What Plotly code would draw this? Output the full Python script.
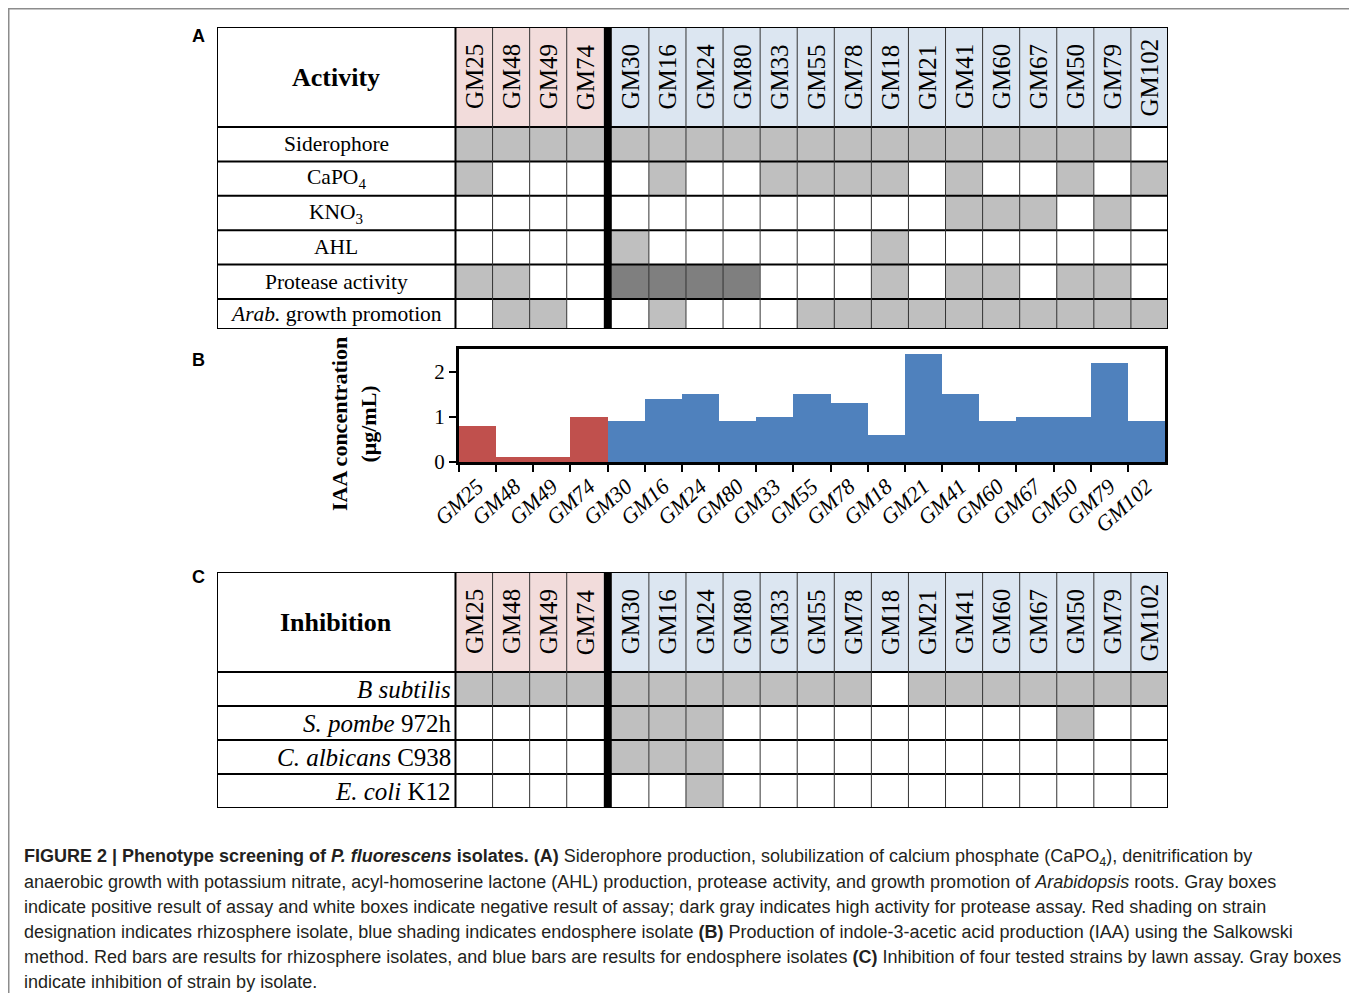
import plotly.graph_objects as go

OFF = 8  # page body margin offset
W, H = 1357 - OFF, 1001 - 2 * OFF

# ---------------- data ----------------
rhizo = ["GM25", "GM48", "GM49", "GM74"]
endo = ["GM30", "GM16", "GM24", "GM80", "GM33", "GM55", "GM78", "GM18", "GM21",
        "GM41", "GM60", "GM67", "GM50", "GM79", "GM102"]
strains = rhizo + endo

activity_rows = ["Siderophore", "CaPO<sub>4</sub>", "KNO<sub>3</sub>", "AHL",
                 "Protease activity", "<i>Arab.</i> growth promotion"]
# 0 = negative (white), 1 = positive (gray), 2 = high activity (dark gray)
siderophore = [1, 1, 1, 1, 1, 1, 1, 1, 1, 1, 1, 1, 1, 1, 1, 1, 1, 1, 0]
capo4 =       [1, 0, 0, 0, 0, 1, 0, 0, 1, 1, 1, 1, 0, 1, 0, 0, 1, 0, 1]
kno3 =        [0, 0, 0, 0, 0, 0, 0, 0, 0, 0, 0, 0, 0, 1, 1, 1, 0, 1, 0]
ahl =         [0, 0, 0, 0, 1, 0, 0, 0, 0, 0, 0, 1, 0, 0, 0, 0, 0, 0, 0]
protease =    [1, 1, 0, 0, 2, 2, 2, 2, 0, 0, 0, 1, 0, 1, 1, 0, 1, 1, 0]
arab_growth = [0, 1, 1, 0, 0, 1, 0, 0, 0, 1, 1, 1, 1, 1, 1, 1, 1, 1, 1]
activity = [siderophore, capo4, kno3, ahl, protease, arab_growth]

iaa = [0.8, 0.1, 0.1, 1.0, 0.9, 1.4, 1.5, 0.9, 1.0, 1.5, 1.3, 0.6, 2.4, 1.5,
       0.9, 1.0, 1.0, 2.2, 0.9]
iaa_ticks = [0, 1, 2]

inhibition_rows = ["<i>B subtilis</i>", "<i>S. pombe</i> 972h",
                   "<i>C. albicans</i> C938", "<i>E. coli</i> K12"]
b_subtilis = [1, 1, 1, 1, 1, 1, 1, 1, 1, 1, 1, 0, 1, 1, 1, 1, 1, 1, 1]
s_pombe =    [0, 0, 0, 0, 1, 1, 1, 0, 0, 0, 0, 0, 0, 0, 0, 0, 1, 0, 0]
c_albicans = [0, 0, 0, 0, 1, 1, 1, 0, 0, 0, 0, 0, 0, 0, 0, 0, 0, 0, 0]
e_coli =     [0, 0, 0, 0, 0, 0, 1, 0, 0, 0, 0, 0, 0, 0, 0, 0, 0, 0, 0]
inhibition = [b_subtilis, s_pombe, c_albicans, e_coli]

caption_lines = [
    "<b>FIGURE 2 | Phenotype screening of <i>P. fluorescens</i> isolates. (A)</b> Siderophore production, solubilization of calcium phosphate (CaPO<sub>4</sub>), denitrification by",
    "anaerobic growth with potassium nitrate, acyl-homoserine lactone (AHL) production, protease activity, and growth promotion of <i>Arabidopsis</i> roots. Gray boxes",
    "indicate positive result of assay and white boxes indicate negative result of assay; dark gray indicates high activity for protease assay. Red shading on strain",
    "designation indicates rhizosphere isolate, blue shading indicates endosphere isolate <b>(B)</b> Production of indole-3-acetic acid production (IAA) using the Salkowski",
    "method. Red bars are results for rhizosphere isolates, and blue bars are results for endosphere isolates <b>(C)</b> Inhibition of four tested strains by lawn assay. Gray boxes",
    "indicate inhibition of strain by isolate.",
]

# ---------------- styles ----------------
SERIF = "Liberation Serif"
SANS = "Liberation Sans"
GRAY = "#bfbfbf"
DARK = "#7f7f7f"
PINK = "#f2dcdb"
BLUE = "#dce6f1"
RED_BAR = "#c0504d"
BLUE_BAR = "#4f81bd"

colorscale = [[0, "white"], [0.125, "white"], [0.125, GRAY], [0.375, GRAY],
              [0.375, DARK], [0.625, DARK], [0.625, PINK], [0.875, PINK],
              [0.875, BLUE], [1, BLUE]]


def px_x(p):
    return (p - OFF) / W


def px_y(p):
    return 1 - (p - OFF) / H


U_PX = 37.08
LBL_PX = 238.5
SEP_PX = 8
LW = LBL_PX / U_PX
SEP = SEP_PX / U_PX
XMAX = len(strains) + SEP

fig = go.Figure()
shapes = []
annotations = []


def col_left(i):
    return i + (0 if i < len(rhizo) else SEP)


def add_table(xa, ya, top, bottom, title, row_labels, matrix, align, row_px):
    n = len(row_labels)
    header_px = 100
    HH = header_px / row_px
    ybot = (bottom - top - header_px) / row_px  # visible extent of the rows
    xr, yr = xa.replace("x", "xaxis"), ya.replace("y", "yaxis")
    for grp, start, hdr in ((rhizo, 0, 3), (endo, len(rhizo), 4)):
        k = len(grp)
        x0 = col_left(start)
        xe = [x0 + j for j in range(k + 1)]
        ye = [-HH] + list(range(n + 1))
        z = [[hdr] * k] + [row[start:start + k] for row in matrix]
        fig.add_trace(go.Heatmap(x=xe, y=ye, z=z, xaxis=xa, yaxis=ya,
                                 colorscale=colorscale, zmin=0, zmax=4,
                                 showscale=False, hoverinfo="skip"))
    fig.layout[xr] = dict(domain=[px_x(217), px_x(1168)], range=[-LW, XMAX],
                          visible=False, anchor=ya, automargin=False)
    fig.layout[yr] = dict(domain=[px_y(bottom), px_y(top)], range=[ybot, -HH],
                          visible=False, anchor=xa, automargin=False)
    for j in range(n):
        shapes.append(dict(type="line", xref=xa, yref=ya, x0=-LW, x1=XMAX,
                           y0=j, y1=j, line=dict(color="black", width=2)))
    for i in range(1, len(strains)):
        if i == len(rhizo):
            continue
        x = col_left(i)
        shapes.append(dict(type="line", xref=xa, yref=ya, x0=x, x1=x,
                           y0=-HH, y1=ybot, line=dict(color="#333333", width=1)))
    shapes.append(dict(type="line", xref=xa, yref=ya, x0=0, x1=0,
                       y0=-HH, y1=ybot, line=dict(color="black", width=2)))
    shapes.append(dict(type="rect", xref=xa, yref=ya, x0=len(rhizo),
                       x1=len(rhizo) + SEP, y0=-HH, y1=ybot,
                       fillcolor="black", line=dict(width=0)))
    shapes.append(dict(type="rect", xref=xa, yref=ya, x0=-LW, x1=XMAX,
                       y0=-HH, y1=ybot, line=dict(color="black", width=2)))
    for i, s in enumerate(strains):
        annotations.append(dict(xref=xa, yref=ya, x=col_left(i) + 0.5,
                                y=-HH / 2, text=s, textangle=-90,
                                showarrow=False, xanchor="center",
                                yanchor="middle",
                                font=dict(family=SERIF, size=25, color="black")))
    annotations.append(dict(xref=xa, yref=ya, x=-LW / 2, y=-HH / 2,
                            text="<b>%s</b>" % title, showarrow=False,
                            xanchor="center", yanchor="middle",
                            font=dict(family=SERIF, size=26, color="black")))
    for j, lab in enumerate(row_labels):
        yc = (j + min(j + 1, ybot)) / 2
        if align == "center":
            annotations.append(dict(xref=xa, yref=ya, x=-LW / 2, y=yc,
                                    text=lab, showarrow=False,
                                    xanchor="center", yanchor="middle",
                                    font=dict(family=SERIF, size=21.5,
                                              color="black")))
        else:
            annotations.append(dict(xref=xa, yref=ya, x=0, y=yc,
                                    xanchor="right", yanchor="middle",
                                    xshift=-2, text=lab, showarrow=False,
                                    font=dict(family=SERIF, size=25,
                                              color="black")))


add_table("x", "y", 27, 329, "Activity", activity_rows, activity, "center", 34.4)
add_table("x3", "y3", 572, 808, "Inhibition", inhibition_rows, inhibition,
          "right", 34.0)

# ---------------- bar chart ----------------
bar_colors = [RED_BAR if s in rhizo else BLUE_BAR for s in strains]
fig.add_trace(go.Bar(x=strains, y=iaa, xaxis="x2", yaxis="y2",
                     marker=dict(color=bar_colors, line=dict(width=0)),
                     hoverinfo="skip"))
fig.layout["xaxis2"] = dict(domain=[px_x(459), px_x(1165)], anchor="y2",
                            type="category", range=[-0.5, len(strains) - 0.5],
                            showline=True, mirror=True, linewidth=3,
                            linecolor="black", ticks="outside",
                            tickson="boundaries", ticklen=7, tickwidth=2,
                            tickcolor="black", tickangle=-42, showgrid=False,
                            automargin=False,
                            tickfont=dict(family=SERIF, size=22, style="italic",
                                          color="black"))
fig.layout["yaxis2"] = dict(domain=[px_y(462), px_y(349)], anchor="x2",
                            range=[0, 2.5], tickvals=iaa_ticks,
                            showline=True, mirror=True, linewidth=3,
                            linecolor="black", ticks="outside", ticklen=7,
                            tickwidth=2, tickcolor="black", showgrid=False,
                            zeroline=False, automargin=False,
                            tickfont=dict(family=SERIF, size=21, color="black"))
annotations.append(dict(xref="paper", yref="paper", x=px_x(354), y=px_y(424),
                        text="<b>IAA concentration</b><br><b>(μg/mL)</b>",
                        textangle=-90, showarrow=False, xanchor="center",
                        yanchor="middle",
                        font=dict(family=SERIF, size=22, color="black")))

for letter, yy in (("A", 36), ("B", 360), ("C", 577)):
    annotations.append(dict(xref="paper", yref="paper", x=px_x(199),
                            y=px_y(yy), text="<b>%s</b>" % letter,
                            showarrow=False, xanchor="center",
                            yanchor="middle",
                            font=dict(family=SANS, size=18, color="black")))

for k, line in enumerate(caption_lines):
    annotations.append(dict(xref="paper", yref="paper", x=px_x(22),
                            y=px_y(857 + 25 * k), xanchor="left",
                            yanchor="middle", text=line, showarrow=False,
                            align="left",
                            font=dict(family=SANS, size=18, color="#231f20")))

shapes.append(dict(type="rect", xref="paper", yref="paper", x0=px_x(8.75),
                   x1=px_x(1355), y0=px_y(1012), y1=px_y(8.75),
                   line=dict(color="#8c8c8c", width=1.5), layer="below"))

fig.update_layout(template="none", width=W, height=H,
                  margin=dict(l=0, r=0, t=0, b=0, autoexpand=False),
                  paper_bgcolor="white", plot_bgcolor="white",
                  showlegend=False, bargap=0, shapes=shapes,
                  annotations=annotations)

fig.write_html("out.html")
